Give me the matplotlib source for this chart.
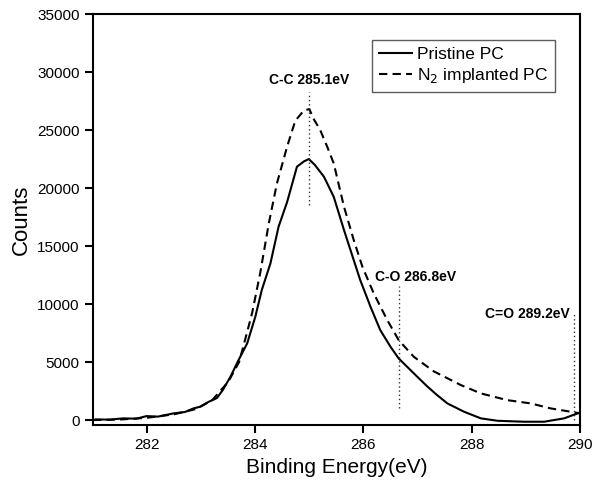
import matplotlib
matplotlib.use('Agg')
import matplotlib.pyplot as plt

# XPS C1s spectra
pristine_x = [281.05, 281.3, 281.56, 281.8, 281.99, 282.2, 282.49, 282.7, 282.86, 282.98,
              283.14, 283.29, 283.4, 283.54, 283.69, 283.85, 284.0, 284.12, 284.28, 284.43,
              284.59, 284.77, 284.9, 284.99, 285.1, 285.27, 285.45, 285.64, 285.79, 285.94,
              286.13, 286.31, 286.5, 286.65, 286.93, 287.18, 287.35, 287.55, 287.86, 288.17,
              288.48, 288.97, 289.34, 289.71, 290.0]
pristine_y = [60, 40, 150, 120, 345, 300, 580, 700, 1010, 1150,
              1580, 1900, 2600, 3730, 5170, 6610, 8900, 11210, 13510, 16660,
              18820, 21840, 22300, 22500, 22000, 20970, 19250, 16380, 14220, 12070,
              9770, 7760, 6320, 5320, 4030, 2900, 2200, 1440, 720, 150,
              -60, -140, -140, 150, 650]

implanted_x = [281.0, 281.5, 282.0, 282.5, 282.9, 283.2, 283.5, 283.7, 283.81, 283.94,
               284.09, 284.25, 284.4, 284.59, 284.74, 284.9, 285.0, 285.07, 285.2, 285.33,
               285.45, 285.64, 285.82, 285.98, 286.19, 286.44, 286.65, 286.93, 287.3, 287.8,
               288.17, 288.66, 289.09, 289.46, 289.83, 290.0]
implanted_y = [0, 50, 200, 500, 950, 1700, 3300, 5000, 6900, 9200,
               12650, 16960, 20400, 23600, 25800, 26700, 26800, 26030, 25000, 23560,
               22130, 18390, 15520, 13220, 10920, 8620, 6900, 5460, 4200, 3020,
               2300, 1720, 1440, 1010, 720, 580]

# peak markers: (x, y_bottom, y_top, label, label_x, label_y, ha)
peak_x = [285.0, 286.65, 289.89]
peak_ymin = [18500, 1000, 0]
peak_ymax = [28300, 11600, 9200]
peak_labels = ['C-C 285.1eV', 'C-O 286.8eV', 'C=O 289.2eV']
label_x = [285.0, 286.22, 289.81]
label_y = [29300, 12330, 9140]
label_ha = ['center', 'left', 'right']

plt.rcParams['font.family'] = ['Liberation Sans', 'DejaVu Sans']

fig = plt.figure(figsize=(6.04, 4.92), dpi=100)
ax = fig.add_axes([0.154, 0.136, 0.806, 0.8355])

ax.plot(pristine_x, pristine_y, color='black', lw=1.5, label='Pristine PC')
ax.plot(implanted_x, implanted_y, color='black', lw=1.5, dashes=(4, 2.5),
        label='N$_2$ implanted PC')

for px, y0, y1 in zip(peak_x, peak_ymin, peak_ymax):
    ax.plot([px, px], [y0, y1], color='#333333', lw=1.0, dashes=(1, 2))
for t, tx, ty, ha in zip(peak_labels, label_x, label_y, label_ha):
    ax.text(tx, ty, t, ha=ha, va='center', fontsize=10, fontweight='bold')

ax.set_xlim(281, 290)
ax.set_ylim(-430, 35000)
ax.set_xticks([282, 284, 286, 288, 290])
ax.set_yticks(range(0, 35001, 5000))
ax.tick_params(direction='out', length=6, width=1.5, labelsize=11, top=False, right=False)
for s in ax.spines.values():
    s.set_linewidth(1.5)

ax.set_xlabel('Binding Energy(eV)', fontsize=15)
ax.set_ylabel('Counts', fontsize=16)

leg = ax.legend(loc='upper left', bbox_to_anchor=(0.573, 0.937), borderaxespad=0,
                fontsize=12.5, fancybox=False, frameon=True, handlelength=1.9,
                handletextpad=0.3, labelspacing=0.25, borderpad=0.4)
leg.get_frame().set_edgecolor('#333333')
leg.get_frame().set_linewidth(1.0)

fig.savefig('out.png', dpi=100)
